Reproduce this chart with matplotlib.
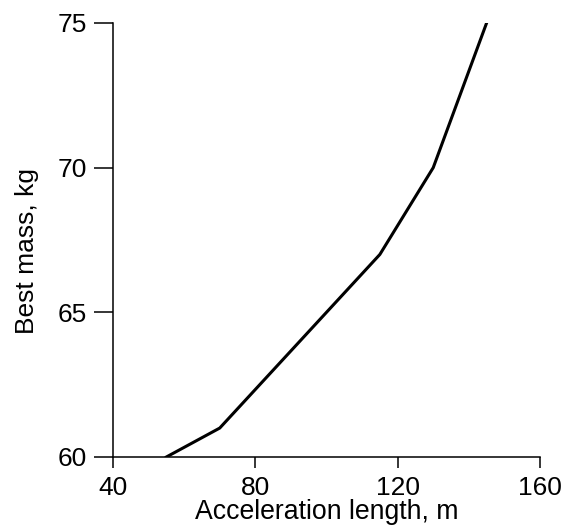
import matplotlib
matplotlib.use("Agg")
import matplotlib.pyplot as plt

# acceleration length (m) vs best mass (kg)
accel_len = [55, 70, 115, 130, 145]
best_mass = [60, 61, 67, 70, 75]
x_ticks = [40, 80, 120, 160]
y_ticks = [60, 65, 70, 75]

plt.rcParams['font.family'] = ['Liberation Sans', 'DejaVu Sans']

fig = plt.figure(figsize=(5.63, 5.26), dpi=100)
ax = fig.add_axes([0.2007, 0.1312, 0.7584, 0.8251])
ax.plot(accel_len, best_mass, color='black', lw=2.2, solid_joinstyle='miter')

ax.set_xlim(40, 160)
ax.set_ylim(60, 75)
ax.set_xticks(x_ticks)
ax.set_yticks(y_ticks)
for s in ['top', 'right']:
    ax.spines[s].set_visible(False)
for s in ['left', 'bottom']:
    ax.spines[s].set_linewidth(1.1)
ax.tick_params(axis='x', direction='out', length=8, width=1.1, labelsize=19, pad=5.5)
ax.tick_params(axis='y', direction='out', length=14, width=1.1, labelsize=19, pad=5)
ax.set_xlabel('Acceleration length, m', fontsize=19.2, labelpad=-0.8)
ax.set_ylabel('Best mass, kg', fontsize=19, labelpad=13)
ax.yaxis.label.set_y(0.475)

fig.savefig('out.png', dpi=100)
